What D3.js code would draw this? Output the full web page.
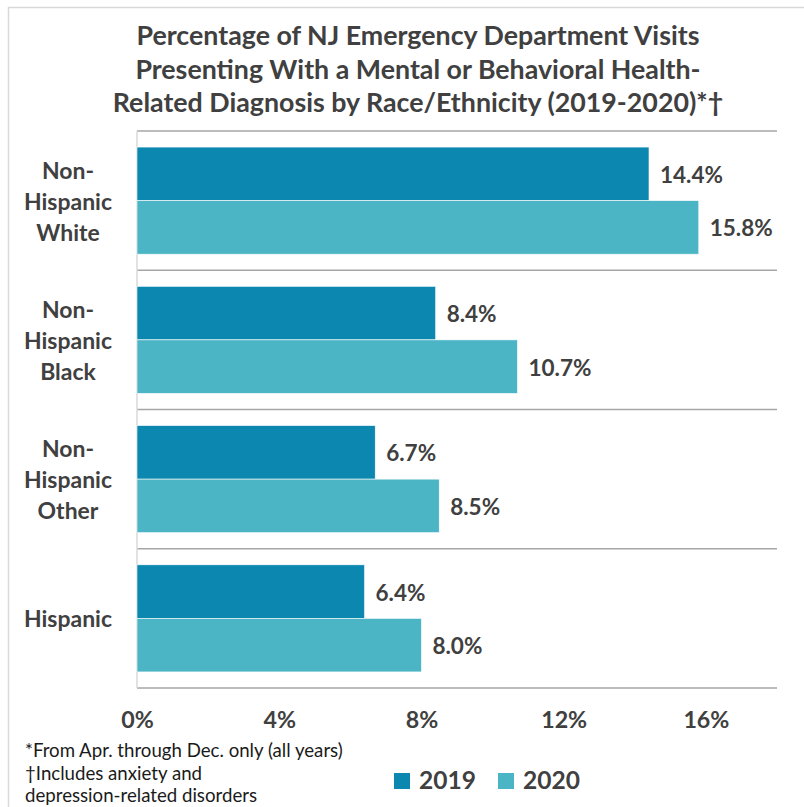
<!DOCTYPE html>
<html>
<head>
<meta charset="utf-8">
<script src="https://cdn.jsdelivr.net/npm/d3@7"></script>
<style>
  html, body { margin: 0; padding: 0; background: #fff; }
  svg { display: block; }
</style>
</head>
<body>
<svg id="chart" width="804" height="807"></svg>
<script>
// ---- data ----
const categories = ["Non-Hispanic White", "Non-Hispanic Black", "Non-Hispanic Other", "Hispanic"];
const categoryLines = [["Non-", "Hispanic", "White"], ["Non-", "Hispanic", "Black"], ["Non-", "Hispanic", "Other"], ["Hispanic"]];
const years = ["2019", "2020"];
const values2019 = [14.4, 8.4, 6.7, 6.4];
const values2020 = [15.8, 10.7, 8.5, 8.0];
const tickValues = [0, 4, 8, 12, 16];
const titleLines = [
  "Percentage of NJ Emergency Department Visits",
  "Presenting With a Mental or Behavioral Health-",
  "Related Diagnosis by Race/Ethnicity (2019-2020)*\u2020"
];
const footnotes = [
  "*From Apr. through Dec. only (all years)",
  "\u2020Includes anxiety and",
  "depression-related disorders"
];
const colors = ["#0B87B0", "#4BB5C5"];

// ---- setup ----
const FONT = "Lato, 'Open Sans', sans-serif";
const svg = d3.select("#chart");
const txt = "#404040";

function fit(sel, target) {
  const w = sel.node().getComputedTextLength();
  const fs = parseFloat(sel.attr("font-size"));
  return fs * target / w;
}

// outer border
svg.append("rect").attr("x", 8.5).attr("y", 7.5).attr("width", 900).attr("height", 900)
  .attr("fill", "none").attr("stroke", "#D9D9D9").attr("stroke-width", 1.5);

// scales
const x = d3.scaleLinear().domain([0, 18]).range([137, 777]);
const y0 = d3.scaleBand().domain(categories).range([131, 688]).paddingInner(0).paddingOuter(0);
const y1 = d3.scaleBand().domain(years).range([0, y0.bandwidth()]).paddingInner(0).paddingOuter(0.3);

// title
const title = svg.append("g");
const tl = title.selectAll("text").data(titleLines).join("text")
  .attr("x", 418).attr("y", (d, i) => 45 + i * 33.5)
  .attr("text-anchor", "middle").attr("font-family", FONT).attr("font-weight", "bold")
  .attr("font-size", 26).attr("fill", txt).text(d => d);
const tfs = fit(d3.select(tl.nodes()[0]), 563);
tl.attr("font-size", tfs);

// grid lines (category boundaries)
const bounds = categories.map(c => y0(c)).concat([y0.range()[1]]);
svg.append("g").selectAll("line").data(bounds).join("line")
  .attr("x1", x(0)).attr("x2", x(18))
  .attr("y1", d => d).attr("y2", d => d)
  .attr("stroke", "#A6A6A6").attr("stroke-width", 1.5);

// vertical axis line
svg.append("line").attr("x1", x(0)).attr("x2", x(0))
  .attr("y1", y0.range()[0]).attr("y2", y0.range()[1])
  .attr("stroke", "#D9D9D9").attr("stroke-width", 1.5);

// bars
const rows = categories.map((c, i) => ({ cat: c, vals: [values2019[i], values2020[i]] }));
const groups = svg.append("g").selectAll("g").data(rows).join("g")
  .attr("transform", d => `translate(0,${y0(d.cat)})`);
groups.selectAll("rect").data(d => d.vals.map((v, j) => ({ v, year: years[j], j }))).join("rect")
  .attr("x", x(0)).attr("y", d => y1(d.year))
  .attr("width", d => x(d.v) - x(0)).attr("height", y1.bandwidth())
  .attr("fill", d => colors[d.j]).attr("stroke", "#fff").attr("stroke-width", 0.6);

// value labels
const vl = groups.selectAll("text.val").data(d => d.vals.map((v, j) => ({ v, year: years[j] }))).join("text")
  .attr("class", "val")
  .attr("x", d => x(d.v) + 11).attr("y", d => y1(d.year) + y1.bandwidth() / 2 + 9)
  .attr("font-family", FONT).attr("font-weight", "bold").attr("font-size", 24)
  .attr("fill", txt).text(d => d.v.toFixed(1) + "%");
const vfs = fit(d3.select(vl.nodes()[0]), 63);
vl.attr("font-size", vfs);

// category labels
const cl = svg.append("g").selectAll("text").data(categories).join("text")
  .attr("text-anchor", "middle").attr("font-family", FONT).attr("font-weight", "bold")
  .attr("font-size", 24).attr("fill", txt);
cl.each(function (d, i) {
  const lines = categoryLines[i];
  const cy = y0(d) + y0.bandwidth() / 2;
  d3.select(this).selectAll("tspan").data(lines).join("tspan")
    .attr("x", 68)
    .attr("y", (t, k) => cy + 9 + (k - (lines.length - 1) / 2) * 31)
    .text(t => t);
});
// fit using "Hispanic" (last category single line)
const hisp = svg.append("text").attr("font-family", FONT).attr("font-weight", "bold")
  .attr("font-size", 24).text("Hispanic");
const cfs = fit(hisp, 88);
hisp.remove();
cl.attr("font-size", cfs);

// x axis tick labels
const xAxis = d3.axisBottom(x).tickValues(tickValues).tickFormat(d => d + "%").tickSize(0).tickPadding(0);
const ax = svg.append("g").attr("transform", "translate(0,705)").call(xAxis);
ax.select(".domain").remove();
ax.selectAll("text").attr("font-family", FONT).attr("font-weight", "bold")
  .attr("font-size", 24).attr("fill", txt).attr("dy", null).attr("y", 23);
const last = ax.selectAll("text").filter(d => d === 16);
const afs = fit(last, 46);
ax.selectAll("text").attr("font-size", afs);

// footnotes
const fn = svg.append("g").selectAll("text").data(footnotes).join("text")
  .attr("x", 25).attr("y", (d, i) => 757 + i * 22.5)
  .attr("font-family", FONT).attr("font-size", 16).attr("fill", "#1a1a1a").text(d => d);
const ffs = fit(d3.select(fn.nodes()[0]), 318);
fn.attr("font-size", ffs);

// legend
const legX = [394, 498];
const leg = svg.append("g").selectAll("g").data(years).join("g")
  .attr("transform", (d, i) => `translate(${legX[i]},773)`);
leg.append("rect").attr("width", 16).attr("height", 16).attr("fill", (d, i) => colors[i]);
const lt = leg.append("text").attr("x", 25).attr("y", 15.5)
  .attr("font-family", FONT).attr("font-weight", "bold").attr("font-size", 28)
  .attr("fill", txt).text(d => d);
const lfs = fit(d3.select(lt.nodes()[0]), 57);
lt.attr("font-size", lfs);
</script>
</body>
</html>
